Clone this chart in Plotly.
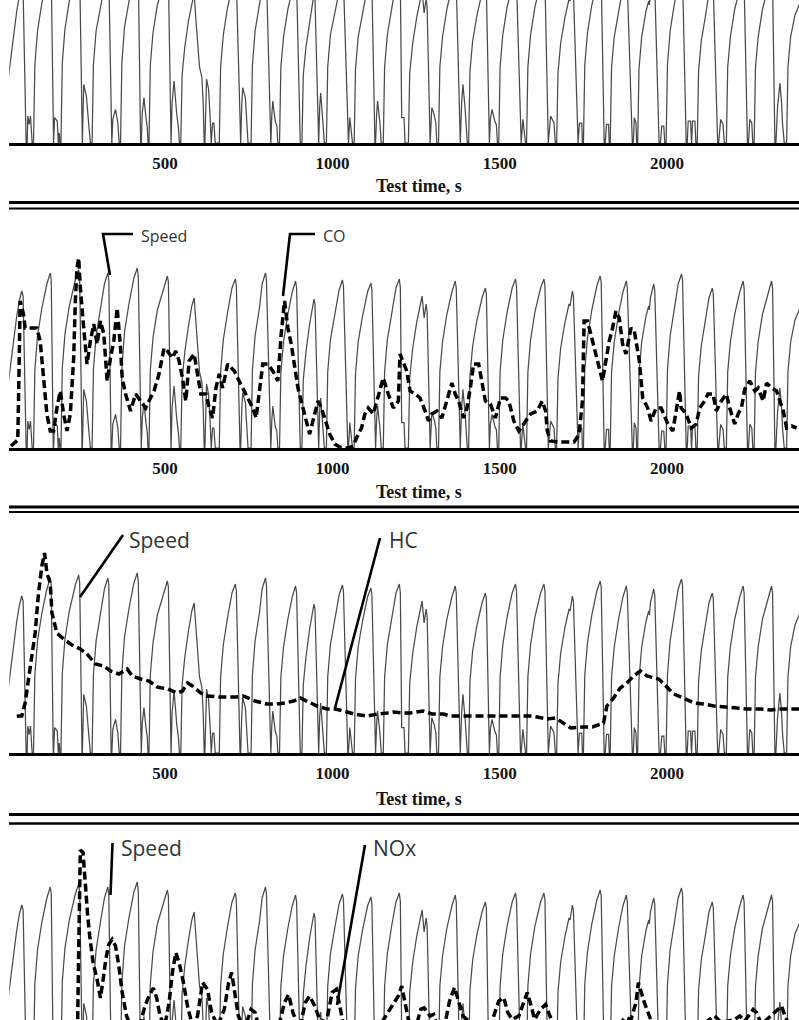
import plotly.graph_objects as go

# ---------------- DATA ----------------
# Speed trace keypoints (test time s, speed in chart units) - same driving cycle in every panel
speed_t = [
    30, 35, 45, 57, 65, 72, 76, 85, 88, 90, 94, 98, 103,
    107, 111, 119, 132, 147, 157, 160, 166, 167, 170, 178, 181, 184, 186,
    189, 193, 201, 214, 232, 242, 245, 252, 253, 257, 265, 272, 277,
    282, 286, 294, 307, 319, 329, 332, 339, 341, 344, 352, 359, 363,
    367, 371, 379, 392, 407, 417, 420, 427, 429, 432, 437, 443, 447, 449,
    452, 456, 464, 477, 497, 507, 510, 516, 518, 521, 527, 535, 540, 543,
    547, 551, 559, 570, 580, 587, 592, 597, 603, 610, 614, 617, 619, 624, 630, 635, 638, 642, 646, 650,
    662, 666, 674, 687, 700, 710, 713, 724, 726, 729, 732, 740, 745, 748,
    757, 761, 769, 782, 790, 800, 803, 814, 816, 819, 822, 829, 834, 837,
    842, 846, 854, 867, 880, 890, 893, 904,
    909, 913, 921, 932, 940, 945, 948, 957, 959, 962, 965, 972, 976,
    982, 986, 994, 1007, 1020, 1030, 1033, 1046, 1048, 1052, 1057, 1060,
    1065, 1069, 1077, 1090, 1105, 1115, 1118, 1127, 1129, 1132, 1135, 1142, 1146,
    1152, 1156, 1164, 1177, 1190, 1200, 1203, 1207, 1214, 1217,
    1227, 1231, 1240, 1252, 1262, 1268, 1274, 1280, 1283, 1290, 1292, 1297, 1304, 1309, 1312,
    1317, 1321, 1329, 1342, 1357, 1367, 1370, 1380, 1382, 1386, 1390, 1397, 1400, 1403,
    1407, 1411, 1419, 1432, 1447, 1457, 1460, 1467, 1469, 1472, 1477, 1485, 1490, 1493,
    1497, 1501, 1509, 1522, 1537, 1547, 1550, 1562, 1564, 1569, 1574, 1577,
    1580, 1584, 1592, 1605, 1622, 1632, 1635, 1643, 1645, 1652, 1662, 1666,
    1670, 1674, 1682, 1695, 1707, 1710, 1717, 1720, 1732, 1734, 1738, 1745, 1747,
    1750, 1754, 1762, 1775, 1790, 1800, 1803, 1812, 1815, 1819, 1825, 1827,
    1830, 1834, 1842, 1855, 1868, 1878, 1881, 1896, 1899, 1902, 1907, 1909,
    1912, 1916, 1924, 1937, 1945, 1947, 1950, 1960, 1963, 1976, 1980, 1984, 1990, 1993,
    1997, 2001, 2009, 2022, 2033, 2043, 2046, 2057, 2060, 2063, 2070, 2073, 2076, 2083, 2086,
    2090, 2094, 2102, 2115, 2125, 2135, 2138, 2151, 2154, 2160, 2167, 2171,
    2177, 2181, 2189, 2202, 2217, 2227, 2230, 2240, 2243, 2247, 2253, 2256,
    2260, 2264, 2272, 2285, 2302, 2312, 2315, 2322, 2325, 2330, 2337, 2342, 2345, 2350,
    2357, 2361, 2369, 2382, 2397,
]
speed_v = [
    30, 37, 52, 66, 74, 78.5, 76, 0, 0, 13.5, 9.3, 13.5, 0,
    0, 39, 56, 70, 82, 87.5, 84, 0, 0, 12.7, 11, 0, 5, 0,
    0, 40, 57, 71, 84, 89, 85, 0, 0, 29.3, 23.5, 9.3, 0,
    0, 39, 56, 70, 82, 87.5, 84, 0, 0, 12, 16.8, 10, 0,
    0, 40, 58, 72, 85, 90, 86, 0, 0, 15, 22.7, 12.7, 7.7, 0,
    0, 39, 55, 69, 81, 86, 83, 0, 0, 20, 31, 14.3, 7.7, 0,
    0, 34, 48, 61, 71, 75, 62, 50, 38, 33, 20, 0, 0, 32, 27, 12, 0, 10, 10, 0,
    0, 38, 54, 68, 80, 84.5, 81, 0, 0, 18, 27.7, 22.7, 9.3, 0,
    0, 39, 56, 70, 82, 87.5, 84, 0, 0, 14, 21, 11, 8.5, 0,
    0, 38, 53, 67, 78, 83.5, 80, 0,
    0, 34, 48, 62, 71, 74.5, 72, 0, 0, 18, 25, 9.3, 0,
    0, 38, 54, 67, 79, 84, 81, 0, 0, 12.7, 5, 0,
    0, 37, 53, 66, 78, 82.5, 79, 0, 0, 14, 21, 10, 0,
    0, 38, 54, 68, 80, 84.5, 80, 12.7, 12.7, 0,
    0, 35, 50, 63, 72, 76, 65, 72, 68, 0, 0, 17.7, 14.3, 10, 0,
    0, 38, 53, 67, 78, 83.5, 80, 0, 0, 20, 29.3, 16, 9.3, 0,
    0, 36, 51, 64, 75, 80, 77, 0, 0, 12, 16.8, 11, 9, 0,
    0, 38, 54, 68, 80, 84.5, 81, 0, 0, 11.8, 4.3, 0,
    0, 38, 54, 68, 80, 84.5, 81, 0, 0, 13.5, 10, 0,
    0, 35, 50, 63, 72, 71, 78.5, 76, 0, 0, 10, 10, 0,
    0, 39, 55, 69, 81, 86, 83, 0, 0, 9.3, 9.3, 0,
    0, 38, 53, 67, 78, 83.5, 80, 0, 0, 12.7, 10, 0,
    0, 37, 53, 66, 71, 69, 75, 82, 79, 0, 0, 8.5, 8.5, 0,
    0, 39, 56, 70, 82, 87, 84, 0, 0, 11, 11, 0, 11, 11, 0,
    0, 36, 51, 64, 75, 80, 77, 0, 0, 11.8, 9.3, 0,
    0, 38, 53, 67, 78, 83.5, 80, 0, 0, 11.8, 10, 0,
    0, 38, 53, 67, 78, 83.5, 80, 0, 0, 18, 30, 20, 9.3, 0,
    0, 38, 53, 64, 70,
]

# CO (panel 2), same chart units
co_t = [40, 60, 64, 67, 77, 82, 97, 117, 127, 137, 142, 147, 157, 167, 177, 187, 197, 207, 217, 222,
        227, 232, 237, 242, 247, 257, 262, 267, 277, 287, 297, 307, 317, 327, 337, 347, 357, 362,
        367, 372, 382, 397, 412, 427, 442, 452, 467, 482, 497, 507, 522, 532, 542, 552, 562, 572,
        587, 597, 607, 622, 632, 642, 652, 662, 672, 687, 707, 717, 732, 747, 762, 772, 782, 792,
        807, 822, 837, 847, 857, 867, 877, 887, 897, 912, 932, 947, 957, 967, 977, 992, 1007, 1027,
        1047, 1062, 1072, 1087, 1097, 1107, 1122, 1132, 1142, 1152, 1167, 1182, 1197,
        1202, 1222, 1232, 1247, 1262, 1277, 1287, 1297, 1312, 1327, 1342, 1357, 1367, 1377, 1392,
        1402, 1412, 1422, 1437, 1447, 1457, 1472, 1487, 1502, 1517, 1527, 1542, 1557, 1577, 1592,
        1612, 1627, 1637, 1642, 1652, 1672, 1692, 1722, 1737, 1747, 1752, 1762, 1772, 1787, 1797,
        1807, 1817, 1827, 1837, 1847, 1857, 1867, 1877, 1892, 1902, 1917, 1927, 1942, 1952, 1967,
        1982, 2002, 2017, 2027, 2037, 2042, 2057, 2072, 2087, 2097, 2112, 2122, 2137, 2147, 2162,
        2177, 2187, 2202, 2212, 2222, 2232, 2247, 2262, 2272, 2287, 2297, 2312, 2327, 2337, 2347,
        2357, 2372, 2387]
co_v = [1, 4, 40, 73.5, 67, 60, 60, 60, 53.5, 37, 28.5, 17, 8.5, 8.5, 20, 28.5, 17, 8.5, 17, 28.5,
        45, 73.5, 90, 95, 80, 60, 50, 42, 53.5, 62, 52, 63.5, 57, 33.5, 45, 53.5, 70, 62,
        50, 35, 27, 18.5, 27, 23.5, 20, 23.5, 28.5, 37, 50, 48.5, 45, 48.5, 43.5, 35, 23.5, 43.5,
        47, 37, 27, 27, 20, 15, 30, 37, 30, 42, 38.5, 35, 30, 25, 20, 15, 30, 42,
        42, 38.5, 33.5, 57, 73.5, 60, 52, 40, 30, 20, 7, 17, 23.5, 20, 15, 7, 2, 0,
        0, 1, 5, 10, 17, 20, 17, 23.5, 28.5, 35, 27, 20, 23.5,
        47, 38.5, 28.5, 27, 25, 18.5, 13.5, 17, 18.5, 15, 23.5, 32.5, 27, 23.5, 15,
        20, 30, 42, 42, 32, 23.5, 22, 15, 25, 25, 23.5, 13.5, 8.5, 13.5, 17,
        18.5, 23.5, 18.5, 8.5, 3.5, 3, 3, 3, 7, 23.5, 63.5, 63.5, 57, 47, 40,
        33.5, 43.5, 53.5, 60, 68.5, 65, 52, 47, 60, 58.5, 43.5, 25, 20, 13.5, 20,
        20, 12, 8.5, 20, 28.5, 20, 17, 10, 12, 20, 23.5, 27, 27, 18.5, 23.5,
        27, 20, 12, 17, 20, 29.5, 33.5, 28.5, 30, 23.5, 32.5, 30, 28.5, 23.5, 18.5,
        10, 11, 10]

# HC (panel 3)
hc_t = [57, 72, 82, 92, 102, 112, 122, 132, 140, 147, 157, 162, 177, 197, 222, 247, 267, 292, 317,
        337, 362, 387, 402, 427, 452, 477, 507, 537, 552, 567, 582, 607, 624, 664, 714, 734, 769,
        804, 834, 859, 884, 904, 924, 954, 984, 1009, 1034, 1064, 1104, 1134, 1164, 1184, 1212,
        1232, 1272, 1297, 1332, 1352, 1392, 1417, 1457, 1482, 1522, 1547, 1592, 1612, 1642, 1667,
        1692, 1712, 1747, 1777, 1810, 1820, 1840, 1860, 1880, 1900, 1920, 1940, 1975, 1995, 2020,
        2055, 2080, 2110, 2140, 2175, 2200, 2240, 2280, 2310, 2340, 2375, 2397]
hc_v = [18.5, 18.5, 25, 38.5, 48.5, 60, 80, 93.5, 100, 90, 85, 70, 60, 57, 54, 52, 49.5, 44.5, 43.5,
        41, 39.5, 42, 38.5, 37, 36, 33, 32, 30, 31, 35, 33.5, 30, 28.5, 28, 28, 28.5, 26,
        24.5, 24.5, 25, 26, 27.5, 26, 23.5, 22, 22, 21, 19.5, 18.5, 19.5, 20, 20.5, 20,
        20, 21, 19.5, 19.5, 18.5, 18.5, 18.5, 18.5, 18.5, 18.5, 18.5, 18.5, 18, 17, 17.5,
        15, 12.5, 13, 13, 15, 23.5, 27.5, 32.5, 35, 38.5, 41, 38.5, 37, 33.5, 29.5,
        27, 25, 24.5, 23.5, 23, 22.5, 22, 22, 21.5, 22, 22, 22]

# NOx (panel 4)
nox_t = [40, 100, 150, 200, 232, 239, 242, 247, 255, 259, 263, 269, 275, 285, 297, 307, 315, 323,
         332, 342, 352, 362, 372, 385, 402, 427, 440, 452, 465, 475, 485, 499, 512, 522, 532, 542,
         555, 567, 582, 597, 612, 627, 639, 657, 677, 690, 699, 709, 719, 737, 757, 769, 782, 807,
         837, 857, 869, 882, 902, 919, 932, 947, 962, 982, 999, 1012, 1022, 1032, 1057, 1087, 1117,
         1147, 1197, 1207, 1217, 1227, 1247, 1264, 1274, 1292, 1302, 1317, 1337, 1350, 1365, 1377,
         1390, 1402, 1417, 1442, 1472, 1497, 1512, 1524, 1537, 1557, 1572, 1582, 1594, 1604, 1622,
         1637, 1650, 1667, 1722, 1792, 1862, 1874, 1892, 1907, 1914, 1922, 1932, 1947, 1962, 2002,
         2082, 2127, 2142, 2162, 2202, 2217, 2232, 2257, 2267, 2282, 2332, 2342, 2352, 2367, 2387]
nox_v = [10, 8, 12, 10, 15, 20.5, 56, 106, 104.7, 94.7, 83, 73, 63, 49.7, 41.3, 32, 41.3, 51.3,
         58.8, 61.3, 58, 48, 34.7, 23, 16, 19.7, 28, 33, 37, 32, 23, 18, 29.7, 44.7, 54.7, 49.7,
         39.7, 28, 18, 23, 39.7, 36.3, 24.7, 18, 26.3, 39.7, 44.7, 33, 23, 16.3, 26.3, 24.7, 16.3, 14.7,
         16.3, 29.7, 33.8, 24.7, 16.3, 29.7, 33, 28, 21.3, 19.7, 34.7, 36.3, 28, 19.7, 16.3, 14.7, 16.3,
         19.7, 33, 38, 29.7, 21.3, 16, 26.3, 27, 23, 23.8, 16.3, 19.7, 30.5, 37.2, 29.7,
         23, 21.3, 16.3, 15.5, 18, 30.5, 32.2, 24.7, 21.3, 23, 29.7, 34.7, 28, 21.3, 26.3,
         28.8, 23, 16.3, 14.7, 15.5, 19.7, 22.2, 21.3, 29.7, 39.7, 34.7, 29.7, 23, 16.3, 14.7,
         16.3, 21.3, 23, 19.7, 21.3, 23, 20.5, 26.3, 24.7, 18.8, 26.3, 28, 23, 18, 19.7]

tick_vals = [500, 1000, 1500, 2000]
tick_text = ["500", "1000", "1500", "2000"]
x_title = "Test time, s"
pollutants = [None, "CO", "HC", "NOx"]
pollutant_t = [None, co_t, hc_t, nox_t]
pollutant_v = [None, co_v, hc_v, nox_v]

# ---------------- LAYOUT (pixel geometry) ----------------
W, H = 799, 1020


def px_x(p):
    return p / W


def px_y(p):
    return 1 - p / H


X_LEFT_PX = 9.3
X_RANGE = [34.7, 2394]
# (top px, baseline px) of each panel ; y-scale = 2 px per unit
panels = [(0, 143), (218, 448), (522, 753), (830, 1062)]

fig = go.Figure()
layout = dict(
    width=W, height=H, margin=dict(l=0, r=0, t=0, b=0),
    paper_bgcolor="white", plot_bgcolor="white", showlegend=False,
)

for i, (top, base) in enumerate(panels):
    n = "" if i == 0 else str(i + 1)
    bottom_px = min(base, H)
    y_lo = (base - bottom_px) / 2.0
    y_hi = (base - top) / 2.0
    fig.add_trace(go.Scatter(
        x=speed_t, y=speed_v, mode="lines",
        line=dict(color="#4a4a4a", width=1.25),
        xaxis="x" + n, yaxis="y" + n, hoverinfo="skip",
    ))
    if pollutants[i]:
        fig.add_trace(go.Scatter(
            x=pollutant_t[i], y=pollutant_v[i], mode="lines",
            line=dict(color="black", width=3.5, dash="8px,4px"),
            xaxis="x" + n, yaxis="y" + n, hoverinfo="skip",
        ))
    show_axis = base <= H
    layout["xaxis" + n] = dict(
        domain=[px_x(X_LEFT_PX), 1], range=X_RANGE, anchor="y" + n,
        showgrid=False, zeroline=False,
        showline=show_axis, linecolor="black", linewidth=2.5,
        tickvals=tick_vals, ticktext=["<b>%s</b>" % t for t in tick_text],
        showticklabels=show_axis,
        ticks="outside" if show_axis else "", ticklen=3, tickcolor="rgba(0,0,0,0)",
        tickfont=dict(family="Liberation Serif", size=17, color="#141414"),
        fixedrange=True,
    )
    layout["yaxis" + n] = dict(
        domain=[px_y(bottom_px), px_y(top)], range=[y_lo, y_hi],
        anchor="x" + n, visible=False, fixedrange=True,
    )

annotations = []
shapes = []

# x-axis titles
for y in [186, 492, 799]:
    annotations.append(dict(
        x=px_x(419.5), y=px_y(y), xref="paper", yref="paper",
        text="<b>%s</b>" % x_title, showarrow=False, xanchor="center", yanchor="middle",
        font=dict(family="Liberation Serif", size=18, color="#141414"),
    ))

# double separator lines
for y, w in [(202.5, 3), (208.5, 2), (507, 3), (512, 2), (814.5, 3), (823.5, 2.5)]:
    shapes.append(dict(type="line", xref="paper", yref="paper",
                       x0=px_x(9), x1=1, y0=px_y(y), y1=px_y(y),
                       line=dict(color="black", width=w)))

# series labels with leader lines
labels = [
    ("Speed", 139, 236, 16, [(133, 234), (103, 234), (110, 275)]),
    ("CO", 321, 236, 16, [(315, 234), (290, 234), (283, 296)]),
    ("Speed", 127, 540, 21, [(123, 535), (80, 597)]),
    ("HC", 387, 540, 21, [(380, 538), (335, 708)]),
    ("Speed", 119, 848, 21, [(112.5, 843), (110.5, 895)]),
    ("NOx", 371, 848, 21, [(365, 845), (337, 1005)]),
]
for text, x, y, size, pts in labels:
    annotations.append(dict(
        x=px_x(x), y=px_y(y), xref="paper", yref="paper", text=text,
        showarrow=False, xanchor="left", yanchor="middle",
        font=dict(family="Open Sans", size=size, color="#333333"),
    ))
    path = "M " + " L ".join("%.5f,%.5f" % (px_x(a), px_y(b)) for a, b in pts)
    shapes.append(dict(type="path", xref="paper", yref="paper", path=path,
                       line=dict(color="black", width=2.6)))

layout["annotations"] = annotations
layout["shapes"] = shapes
fig.update_layout(**layout)

fig.write_html(
    "out.html",
    config={"displayModeBar": False},
    post_script="document.body.style.margin='0';document.body.style.overflow='hidden';",
)
